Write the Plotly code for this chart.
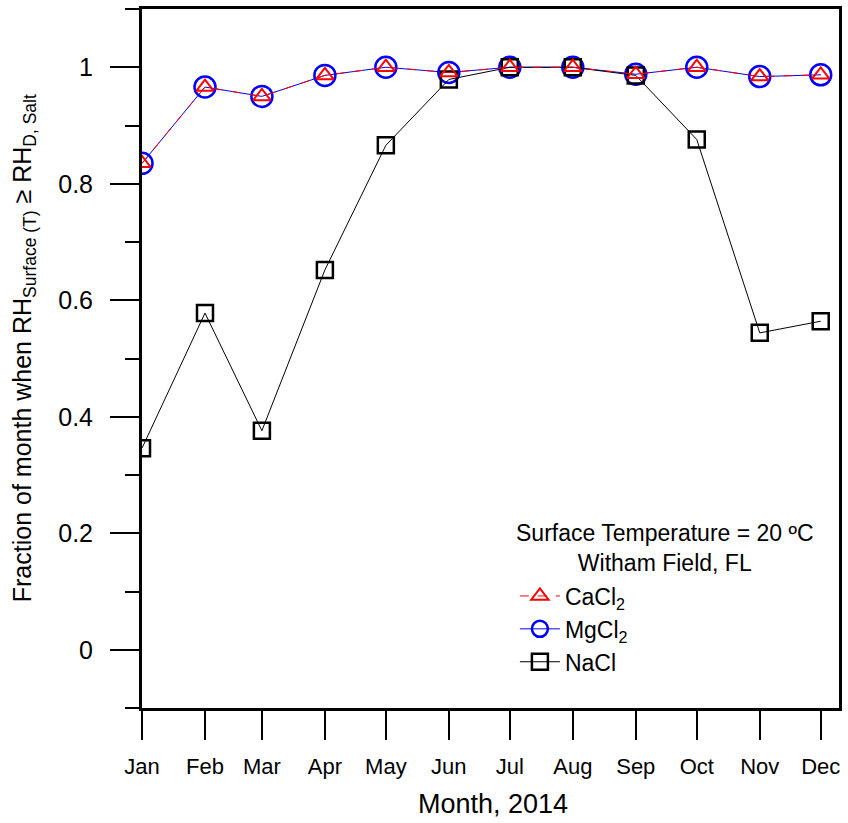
import plotly.graph_objects as go

months = ["2014-01-01", "2014-02-01", "2014-03-01", "2014-04-01", "2014-05-01", "2014-06-01",
          "2014-07-01", "2014-08-01", "2014-09-01", "2014-10-01", "2014-11-01", "2014-12-01"]
cacl2 = [0.835, 0.966, 0.950, 0.986, 1.0, 0.991, 1.0, 1.0, 0.988, 1.0, 0.984, 0.987]
mgcl2 = [0.835, 0.966, 0.950, 0.986, 1.0, 0.991, 1.0, 1.0, 0.988, 1.0, 0.984, 0.987]
nacl = [0.346, 0.578, 0.376, 0.652, 0.866, 0.979, 1.0, 1.0, 0.986, 0.876, 0.544, 0.564]

FONT = "Liberation Sans, Arial, sans-serif"

fig = go.Figure()
fig.add_trace(go.Scatter(
    x=months, y=mgcl2, name="MgCl<sub>2</sub>", mode="lines+markers",
    line=dict(color="#0000ff", width=1),
    marker=dict(symbol="circle-open", size=21, color="#0000ff", line=dict(width=2.5)),
    legendrank=2))
fig.add_trace(go.Scatter(
    x=months, y=nacl, name="NaCl", mode="lines+markers",
    line=dict(color="#000000", width=1),
    marker=dict(symbol="square-open", size=16, color="#000000", line=dict(width=2.5)),
    legendrank=3))
fig.add_trace(go.Scatter(
    x=months, y=cacl2, name="CaCl<sub>2</sub>", mode="lines+markers",
    line=dict(color="#ff0000", width=1, dash="dash"),
    marker=dict(symbol="triangle-up-open", size=15, color="#ff0000", line=dict(width=2)),
    legendrank=1))

fig.update_layout(
    width=848, height=823,
    margin=dict(l=142, r=6, t=8, b=115),
    paper_bgcolor="white", plot_bgcolor="white",
    font=dict(family=FONT, size=22, color="black"),
    showlegend=True,
    legend=dict(x=0.535, y=0.191, xanchor="left", yanchor="top",
                bgcolor="rgba(0,0,0,0)", font=dict(size=23),
                itemwidth=40, tracegroupgap=4, traceorder="normal"),
    xaxis=dict(
        type="date", range=["2014-01-01", "2014-12-10"],
        tick0="2014-01-01", dtick="M1", tickformat="%b",
        ticks="outside", ticklen=29, tickwidth=2, tickcolor="black",
        ticklabelstandoff=8,
        showline=True, linewidth=3, linecolor="black", mirror=True,
        showgrid=False, zeroline=False,
        tickfont=dict(size=22),
    ),
    yaxis=dict(
        range=[-0.1, 1.1], tickmode="linear", tick0=0, dtick=0.2,
        ticks="outside", ticklen=29, tickwidth=2, tickcolor="black",
        ticklabelstandoff=12,
        minor=dict(dtick=0.1, tick0=0, ticks="outside", ticklen=14, tickwidth=2,
                   tickcolor="black", showgrid=False),
        showline=True, linewidth=3, linecolor="black", mirror=True,
        showgrid=False, zeroline=False,
        tickfont=dict(size=25),
    ),
)

fig.add_annotation(
    text="Fraction of month when RH<sub>Surface (T)</sub> ≥ RH<sub>D, Salt</sub>",
    xref="paper", yref="paper", x=-0.170, y=0.514, textangle=-90,
    xanchor="center", yanchor="middle", showarrow=False, font=dict(size=25))

fig.add_annotation(
    text="Month, 2014",
    xref="paper", yref="paper", x=0.503, y=-0.137,
    xanchor="center", yanchor="middle", showarrow=False, font=dict(size=27))

fig.add_annotation(
    text="Surface Temperature = 20 ºC<br>Witham Field, FL",
    xref="paper", yref="paper", x=0.751, y=0.272, xanchor="center", yanchor="top",
    showarrow=False, align="center", font=dict(size=23))

fig.write_html(
    "out.html",
    config={"displayModeBar": False},
    post_script="document.body.style.margin='0';document.body.style.overflow='hidden';",
)
